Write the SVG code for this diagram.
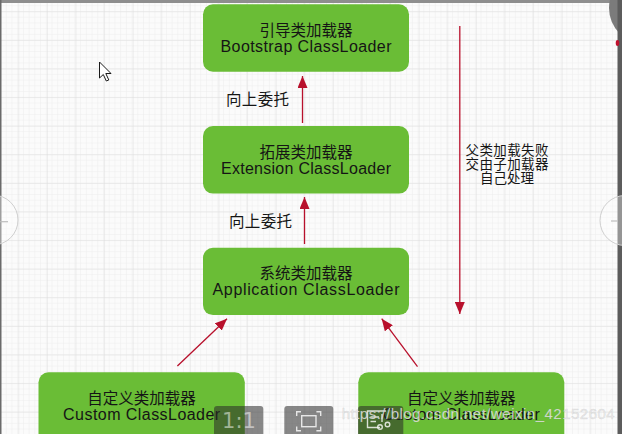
<svg xmlns="http://www.w3.org/2000/svg" width="622" height="434" viewBox="0 0 622 434">
<style>
.node{fill:#6abd36}
.cn{font-family:"Noto Sans CJK SC","Noto Sans",sans-serif;font-size:15.5px;fill:#151515;text-anchor:middle}
.en{font-family:"Liberation Sans","DejaVu Sans",sans-serif;font-size:16px;fill:#151515;text-anchor:middle}
.lbl{font-family:"Noto Sans CJK SC",sans-serif;font-size:15.5px;fill:#151515}
.side{font-family:"Noto Sans CJK SC",sans-serif;font-size:13.5px;fill:#151515;text-anchor:middle}
.edge{stroke:#b8102c;stroke-width:1.3;fill:none;marker-end:url(#ah)}
.btn{fill:rgba(40,40,40,0.55)}
.ico{stroke:rgba(255,255,255,0.8);stroke-width:1.4;fill:none}
</style>
<defs>
<marker id="ah" markerUnits="userSpaceOnUse" markerWidth="12" markerHeight="10" viewBox="0 0 12 10" refX="12" refY="5" orient="auto">
<path d="M0,0 L12,5 L0,10 Z" fill="#b8102c"/>
</marker>
<pattern id="minor" width="5.72" height="5.72" patternUnits="userSpaceOnUse" x="1" y="0.5">
<path d="M5.72,0 V5.72 M0,5.72 H5.72" stroke="#ededed" stroke-width="1"/>
</pattern>
<pattern id="major" width="28.6" height="28.6" patternUnits="userSpaceOnUse" x="18.3" y="11.3">
<path d="M0,0 V28.6 M0,0 H28.6" stroke="#dddddd" stroke-width="1"/>
</pattern>
</defs>
<rect width="622" height="434" fill="#fbfbfb"/>
<rect width="622" height="434" fill="url(#minor)"/>
<rect width="622" height="434" fill="url(#major)"/>

<g id="connectors">
<line class="edge" x1="302.5" y1="123" x2="302.5" y2="76"/>
<line class="edge" x1="304.5" y1="244" x2="304.5" y2="197"/>
<line class="edge" x1="459.8" y1="26" x2="459.8" y2="314"/>
<line class="edge" x1="177.4" y1="366" x2="227" y2="318.7"/>
<line class="edge" x1="417.5" y1="366.7" x2="381.7" y2="318.7"/>
<text class="lbl" x="226" y="104.5" textLength="63">向上委托</text>
<text class="lbl" x="229" y="227" textLength="63">向上委托</text>
<text class="side" x="507" y="154.8" textLength="83">父类加载失败</text>
<text class="side" x="507" y="169.2" textLength="83">交由子加载器</text>
<text class="side" x="507" y="183.4">自己处理</text>
</g>

<g id="bootstrap">
<rect class="node" x="203" y="4.3" width="206" height="67.4" rx="10"/>
<text class="cn" x="306" y="36">引导类加载器</text>
<text class="en" x="306" y="51.7" textLength="171">Bootstrap ClassLoader</text>
</g>
<g id="extension">
<rect class="node" x="203" y="126" width="206" height="67.6" rx="10"/>
<text class="cn" x="306" y="158">拓展类加载器</text>
<text class="en" x="306" y="173.5" textLength="170">Extension ClassLoader</text>
</g>
<g id="application">
<rect class="node" x="203" y="247.7" width="206" height="67.4" rx="10"/>
<text class="cn" x="306" y="279.3">系统类加载器</text>
<text class="en" x="306" y="295" textLength="187">Application ClassLoader</text>
</g>
<g id="custom1">
<rect class="node" x="38.5" y="372.3" width="206.3" height="80" rx="10"/>
<text class="cn" x="141.6" y="404">自定义类加载器</text>
<text class="en" x="141.6" y="419.5" textLength="157">Custom ClassLoader</text>
</g>
<g id="custom2">
<rect class="node" x="358.3" y="372.3" width="206" height="80" rx="10"/>
<text class="cn" x="461.3" y="404">自定义类加载器</text>
<text class="en" x="461.3" y="419.5" textLength="157">Custom ClassLoader</text>
</g>

<g id="viewer-overlay">
<rect x="0" y="0" width="622" height="3" fill="#8e8e8e"/>
<rect x="0" y="0" width="1.5" height="434" fill="#6a6a6a"/>
<circle cx="645" cy="8" r="36" fill="#7b7b7b"/>
<rect x="617.5" y="0" width="4.5" height="434" fill="#5c5c5c"/>
<ellipse cx="617.5" cy="43" rx="1.8" ry="3" fill="#c0112e"/>
<circle cx="-7" cy="220" r="25" fill="rgba(255,255,255,0.35)" stroke="#cfcfcf" stroke-width="1"/>
<line x1="0" y1="221.7" x2="8" y2="221.7" stroke="#bdbdbd" stroke-width="1.2"/>
<circle cx="625" cy="220.5" r="25" fill="rgba(255,255,255,0.35)" stroke="#cfcfcf" stroke-width="1"/>
<line x1="611" y1="221" x2="617.5" y2="221" stroke="#bdbdbd" stroke-width="1.2"/>
<path d="M99.5,62 V78 L103.3,74.5 L106.3,81 L108.8,80 L105.8,73.5 L111,73.5 Z" fill="#ffffff" stroke="#1a1a1a" stroke-width="1"/>
<rect class="btn" x="214" y="406" width="49.3" height="34" rx="3"/>
<text x="239" y="428" font-family="DejaVu Sans,sans-serif" font-size="21" fill="rgba(255,255,255,0.5)" text-anchor="middle">1:1</text>
<rect class="btn" x="284.3" y="406" width="49" height="34" rx="3"/>
<path class="ico" d="M296.7,416 V411.7 H301 M316.4,411.7 H320.7 V416 M320.7,426.4 V430.7 H316.4 M301,430.7 H296.7 V426.4"/>
<rect class="ico" x="301.7" y="415.7" width="14.3" height="11"/>
<rect class="btn" x="358" y="406" width="45.3" height="34" rx="3"/>
<path class="ico" d="M386,411 H367.5 V427.5 H380 M370.5,417 H379 M370.5,421.5 H376 M382,414 V422"/>
<circle class="ico" cx="380" cy="427" r="2.3"/>
<circle class="ico" cx="387.5" cy="424.5" r="2.3"/>
<text x="341.7" y="419" font-family="Liberation Sans,sans-serif" font-size="15" fill="rgba(235,235,235,0.85)" stroke="rgba(140,140,140,0.25)" stroke-width="0.5" textLength="273">https://blog.csdn.net/weixin_42152604</text>
</g>
</svg>
